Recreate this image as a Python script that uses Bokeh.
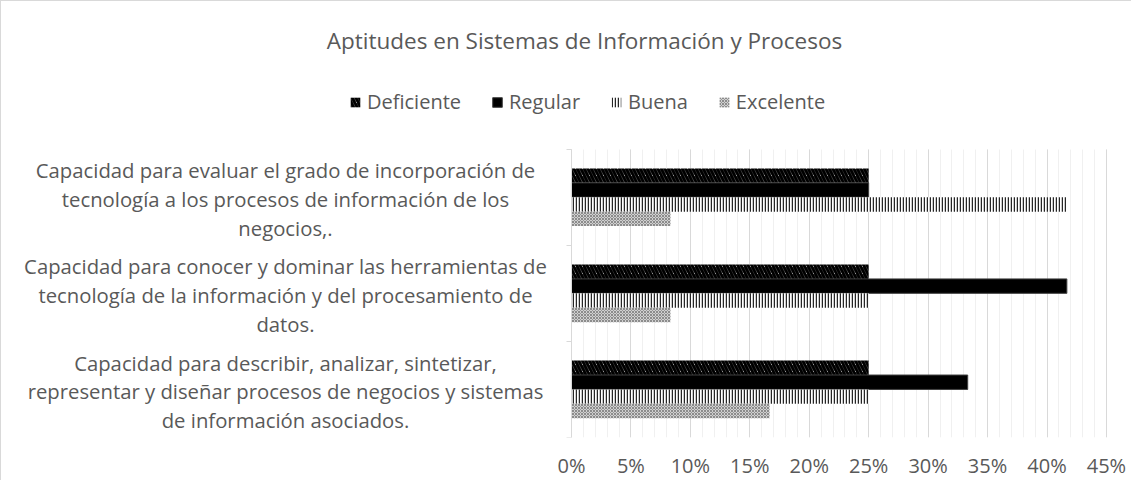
from bokeh.plotting import figure
from bokeh.models import (ColumnDataSource, Range1d, LinearAxis, FixedTicker, CustomJSTickFormatter,
                          SingleIntervalTicker, PrintfTickFormatter, Label, Legend, LegendItem)
from bokeh.transform import dodge
from bokeh.embed import file_html
from bokeh.resources import INLINE

title_text = "Aptitudes en Sistemas de Información y Procesos"
categories = [
    "Capacidad para evaluar el grado de incorporación de\ntecnología a los procesos de información de los\nnegocios,.",
    "Capacidad para conocer y dominar las herramientas de\ntecnología de la información y del procesamiento de\ndatos.",
    "Capacidad para describir, analizar, sintetizar,\nrepresentar y diseñar procesos de negocios y sistemas\nde información asociados.",
]
series = ["Deficiente", "Regular", "Buena", "Excelente"]
deficiente = [25.0, 25.0, 25.0]
regular = [25.0, 41.67, 33.33]
buena = [41.67, 25.0, 25.0]
excelente = [8.33, 8.33, 16.67]

n = len(categories)
# category slot centres (first category at the top)
pos = [n - i - 0.5 for i in range(n)]

source = ColumnDataSource(dict(cat=categories, pos=pos, Deficiente=deficiente, Regular=regular,
                               Buena=buena, Excelente=excelente))

FONT = "Open Sans"
TXT = "#595959"

W, H = 1131, 480
p = figure(width=W, height=H, output_backend="svg", toolbar_location=None,
           x_range=Range1d(-47.94, 47.19), y_range=Range1d(0, 4.5364),
           y_axis_location=None, title=None,
           min_border_left=0, min_border_right=0, min_border_top=0, min_border_bottom=43)
p.outline_line_color = None
p.styles = {"border-left": "1px solid #d9d9d9", "border-top": "1px solid #d9d9d9"}

# x axis and grid (restricted to 0..45 and to the category band)
p.xaxis.ticker = SingleIntervalTicker(interval=5, num_minor_ticks=5)
p.xaxis.bounds = (0, 45)
p.xaxis.formatter = PrintfTickFormatter(format="%d%%")
p.xaxis.axis_line_color = None
p.xaxis.major_tick_line_color = None
p.xaxis.minor_tick_line_color = None
p.xaxis.major_label_text_font = FONT
p.xaxis.major_label_text_font_size = "20px"
p.xaxis.major_label_text_color = TXT
p.xaxis.major_label_standoff = 8
p.xgrid.grid_line_color = "#d9d9d9"
p.xgrid.minor_grid_line_color = "#f0f0f0"
p.xgrid.bounds = (0, 45)
p.xgrid.cross_bounds = (0, n)
for g in p.ygrid:
    g.grid_line_color = None

# vertical category axis at x = 0 with ticks at the slot boundaries
ax = LinearAxis(ticker=FixedTicker(ticks=list(range(n + 1))), fixed_location=0, bounds=(0, n),
                formatter=CustomJSTickFormatter(code="return ''"))
ax.axis_line_color = "#d9d9d9"
ax.major_tick_line_color = "#d9d9d9"
ax.major_tick_out = 5
ax.major_tick_in = 0
ax.minor_tick_line_color = None
p.add_layout(ax, "left")

styles = {
    "Deficiente": dict(fill_color="white", hatch_pattern="\\", hatch_color="black",
                       hatch_scale=7, hatch_weight=3, line_color=None),
    "Regular": dict(fill_color="black", line_color="#404040", line_width=1),
    "Buena": dict(fill_color="white", hatch_pattern="|", hatch_color="#262626",
                  hatch_scale=3, hatch_weight=1.5, line_color=None),
    "Excelente": dict(fill_color="#d0d0d0", hatch_pattern="x", hatch_color="#8c8c8c",
                      hatch_scale=3, hatch_weight=1, line_color=None),
}
offsets = [0.225, 0.075, -0.075, -0.225]
items = []
for s, off in zip(series, offsets):
    r = p.hbar(y=dodge("pos", off), left=0, right=s, height=0.15,
               source=source, **styles[s])
    items.append(LegendItem(label=s, renderers=[r]))

legend = Legend(items=items, orientation="horizontal", location=(348, 322),
                border_line_color=None, background_fill_alpha=0, padding=0, margin=0,
                spacing=30, label_standoff=6, glyph_width=12, glyph_height=12,
                label_height=20,
                label_text_font=FONT, label_text_font_size="20px", label_text_color=TXT)
p.add_layout(legend)

# title
p.add_layout(Label(x=583, y=397, x_units="screen", y_units="screen", text=title_text,
                   text_align="center", text_baseline="middle", text_font=FONT,
                   text_font_size="22.5px", text_color=TXT))

# category labels
for c, y in zip(categories, pos):
    p.add_layout(Label(x=284, y=y - 0.02, x_units="screen", text=c,
                       text_align="center", text_baseline="middle", text_font=FONT,
                       text_font_size="20.3px", text_color=TXT, text_line_height=1.03))

open("out.html", "w").write(file_html(p, INLINE))
